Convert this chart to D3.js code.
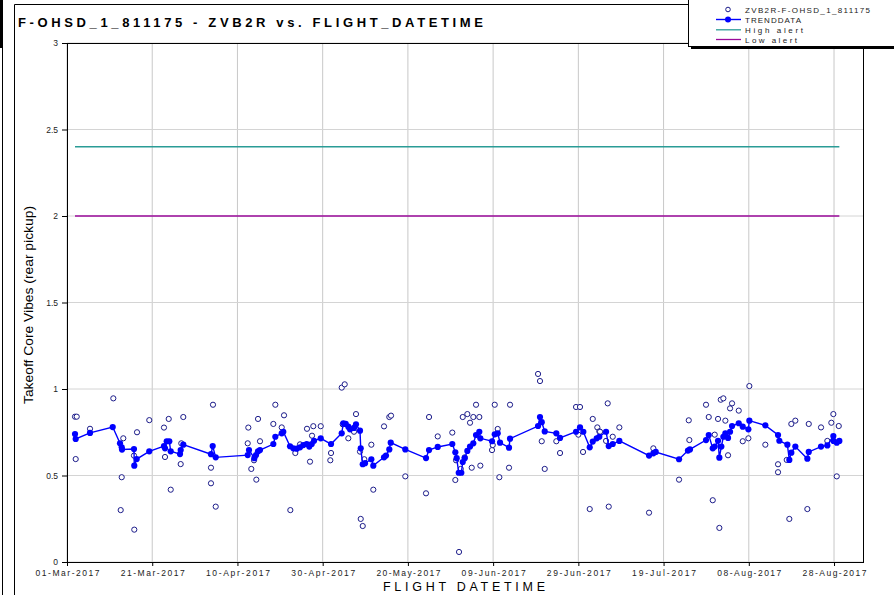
<!DOCTYPE html>
<html>
<head>
<meta charset="utf-8">
<script src="https://cdn.jsdelivr.net/npm/d3@7"></script>
<style>
  body { margin: 0; background: #fff; }
  svg { display: block; font-family: "Liberation Sans", Arial, sans-serif; }
</style>
</head>
<body>
<svg width="894" height="595"></svg>
<script>
// days since 01-Mar-2017 (fractional = time of flight)
var scatterDays = [1.88, 2.28, 2.04, 5.40, 10.87, 13.21, 12.84, 12.60, 16.43, 15.72, 15.79, 19.31, 22.76, 23.87, 23.0, 24.34,
  27.29, 26.68, 26.82, 34.26, 33.79, 33.79, 34.9, 42.55, 42.41, 44.83, 43.25, 44.43, 43.89, 45.29, 48.42, 48.89, 50.93,
  50.39, 52.41, 53.58, 54.68, 56.32, 57.8, 59.54, 57.5, 57.03, 61.96, 61.79, 64.47, 65.17, 64.7, 66.02, 67.35, 67.82,
  68.76, 69.77, 68.93, 69.4, 71.42, 71.88, 74.4, 75.64, 76.04, 79.39, 84.25, 84.96, 87.0, 90.42, 91.29, 91.13, 92.0,
  92.87, 93.95, 94.58, 95.35, 96.76, 95.99, 93.33, 92.4, 94.98, 97.0, 99.74, 99.91, 100.38, 101.08, 101.46, 103.97,
  103.73, 110.54, 111.0, 111.41, 112.11, 114.83, 115.7, 119.46, 120.39, 120.0, 121.1, 123.38, 122.67, 124.45, 124.92,
  126.89, 127.13, 126.5, 125.09, 128.07, 129.62, 136.59, 137.6, 143.63, 145.91, 146.05, 149.96, 150.6, 151.54, 152.0,
  152.78, 153.09, 153.42, 154.03, 154.5, 155.13, 155.6, 156.07, 157.64, 158.58, 159.9, 160.13, 163.88, 166.86, 166.86,
  168.9, 169.51, 169.98, 170.92, 173.74, 174.07, 176.95, 178.43, 179.37, 179.84, 181.11, 180.64];
var scatterValues = [0.84, 0.84, 0.595, 0.77, 0.946, 0.715, 0.49, 0.30, 0.75, 0.615, 0.187, 0.82, 0.777, 0.827, 0.607, 0.418,
  0.838, 0.566, 0.686, 0.909, 0.545, 0.455, 0.32, 0.777, 0.686, 0.827, 0.538, 0.476, 0.588, 0.698, 0.798, 0.909, 0.848,
  0.778, 0.30, 0.63, 0.68, 0.77, 0.785, 0.785, 0.73, 0.58, 0.63, 0.588, 1.008, 1.027, 0.796, 0.715, 0.753, 0.855,
  0.638, 0.594, 0.249, 0.208, 0.678, 0.418, 0.784, 0.838, 0.846, 0.495, 0.397, 0.838, 0.726, 0.748, 0.588, 0.474, 0.058,
  0.838, 0.855, 0.805, 0.838, 0.838, 0.909, 0.605, 0.538, 0.545, 0.557, 0.647, 0.676, 0.909, 0.769, 0.49, 0.909,
  0.545, 1.087, 1.046, 0.698, 0.538, 0.698, 0.63, 0.896, 0.896, 0.736, 0.636, 0.827, 0.306, 0.778, 0.755,
  0.917, 0.32, 0.70, 0.753, 0.724, 0.778, 0.285, 0.657, 0.476, 0.819, 0.705, 0.909, 0.838, 0.357, 0.736,
  0.827, 0.197, 0.938, 0.946, 0.817, 0.617, 0.888, 0.917, 0.875, 0.698, 0.715, 1.017, 0.678, 0.565, 0.519,
  0.59, 0.249, 0.798, 0.817, 0.306, 0.798, 0.778, 0.70, 0.805, 0.855, 0.786, 0.495];

var trendDays = [1.88, 2.04, 5.4, 10.73, 12.44, 12.84, 12.91, 15.72, 15.79, 16.36, 19.31, 22.76, 23.0, 23.4, 24.01, 24.34,
  26.52, 26.68, 27.29, 33.79, 34.19, 34.9, 42.41, 42.71, 43.96, 44.36, 44.83, 45.29, 48.42, 48.89, 50.39, 50.76,
  52.34, 53.11, 53.91, 54.68, 55.46, 56.25, 56.86, 57.43, 57.97, 59.54, 61.96, 64.47, 64.85, 65.41, 66.02, 66.42,
  67.35, 67.82, 68.76, 68.93, 69.4, 69.94, 71.42, 71.88, 74.4, 74.86, 75.64, 75.97, 79.39, 84.25, 84.96, 87.0,
  90.42, 91.13, 91.45, 91.93, 92.54, 92.87, 93.33, 93.95, 94.58, 95.35, 95.99, 96.76, 97.0, 99.74, 100.38, 101.08,
  101.62, 103.73, 103.97, 110.54, 111.0, 111.41, 112.11, 114.83, 115.7, 119.46, 120.39, 121.17, 122.67, 123.38,
  124.31, 124.92, 126.5, 127.13, 128.07, 129.62, 136.59, 137.6, 138.16, 143.63, 145.72, 146.19, 149.96, 150.6,
  151.54, 152.0, 152.78, 153.09, 153.56, 154.03, 154.5, 155.13, 155.6, 156.07, 157.64, 158.58, 159.9, 160.13,
  163.88, 166.86, 167.17, 169.05, 169.51, 169.98, 170.92, 173.74, 174.07, 176.95, 178.43, 179.84, 179.88, 180.64, 181.25];
var trendValues = [0.74, 0.711, 0.746, 0.78, 0.686, 0.663, 0.65, 0.653, 0.557, 0.595, 0.64, 0.67, 0.657, 0.698, 0.698, 0.64,
  0.624, 0.647, 0.678, 0.623, 0.67, 0.605, 0.618, 0.647, 0.60, 0.618, 0.64, 0.647, 0.682, 0.724, 0.744, 0.753,
  0.669, 0.657, 0.655, 0.663, 0.676, 0.682, 0.667, 0.682, 0.701, 0.715, 0.682, 0.744, 0.802, 0.798, 0.782, 0.767,
  0.775, 0.796, 0.759, 0.657, 0.565, 0.571, 0.594, 0.557, 0.605, 0.615, 0.651, 0.69, 0.651, 0.601, 0.647, 0.665,
  0.682, 0.634, 0.60, 0.516, 0.516, 0.578, 0.60, 0.642, 0.667, 0.686, 0.734, 0.753, 0.715, 0.698, 0.738, 0.744,
  0.69, 0.661, 0.713, 0.786, 0.838, 0.808, 0.755, 0.744, 0.717, 0.753, 0.778, 0.753, 0.663, 0.696,
  0.715, 0.724, 0.753, 0.67, 0.682, 0.70, 0.615, 0.628, 0.636, 0.594, 0.644, 0.651, 0.705, 0.734,
  0.657, 0.667, 0.701, 0.603, 0.667, 0.724, 0.744, 0.717, 0.753, 0.786, 0.802, 0.782, 0.767, 0.817,
  0.79, 0.734, 0.701, 0.678, 0.59, 0.632, 0.667, 0.597, 0.636, 0.667, 0.674, 0.728, 0.70, 0.69, 0.70];

var highAlert = 2.4;
var lowAlert = 2.0;

var xTickLabels = ["01-Mar-2017", "21-Mar-2017", "10-Apr-2017", "30-Apr-2017", "20-May-2017",
  "09-Jun-2017", "29-Jun-2017", "19-Jul-2017", "08-Aug-2017", "28-Aug-2017"];
var yTicks = [0, 0.5, 1, 1.5, 2, 2.5, 3];
var legendLabels = ["ZVB2R-F-OHSD_1_811175", "TRENDDATA", "High alert", "Low alert"];

var parseDate = d3.timeParse("%d-%b-%Y");
var baseDate = parseDate("01-Mar-2017");
function dayToDate(d) { return new Date(baseDate.getTime() + d * 86400000); }

var svg = d3.select("svg");
var plotLeft = 67, plotRight = 863, plotTop = 43, plotBottom = 562;

var x = d3.scaleTime()
    .domain([baseDate, dayToDate(186.8)])
    .range([plotLeft, plotRight]);
var y = d3.scaleLinear().domain([0, 3]).range([plotBottom, plotTop]);

// outer frame
svg.append("rect").attr("x", 0).attr("y", 0).attr("width", 3).attr("height", 48).attr("fill", "#000");
svg.append("line").attr("x1", 2.5).attr("x2", 2.5).attr("y1", 48).attr("y2", 595).attr("stroke", "#000");
svg.append("path").attr("d", "M14.5,595V4.5H894").attr("fill", "none").attr("stroke", "#000");

// title
svg.append("text")
    .attr("x", 18).attr("y", 27)
    .attr("font-size", 13).attr("font-weight", "bold")
    .attr("textLength", 465).attr("lengthAdjust", "spacing")
    .text("F-OHSD_1_811175 -  ZVB2R vs. FLIGHT_DATETIME");

// grid
var xTickDates = xTickLabels.map(parseDate);
svg.append("g").selectAll("line").data(xTickDates).enter().append("line")
    .attr("x1", d => x(d)).attr("x2", d => x(d))
    .attr("y1", plotTop).attr("y2", plotBottom)
    .attr("stroke", "#c8c8c8");
svg.append("g").selectAll("line").data(yTicks).enter().append("line")
    .attr("x1", plotLeft).attr("x2", plotRight)
    .attr("y1", d => y(d)).attr("y2", d => y(d))
    .attr("stroke", "#d4d4d4");

// axes
var yAxis = svg.append("g")
    .attr("transform", "translate(" + plotLeft + ",0)")
    .call(d3.axisLeft(y).tickValues(yTicks).tickSize(5).tickFormat(d3.format("")));
var xAxis = svg.append("g")
    .attr("transform", "translate(0," + plotBottom + ")")
    .call(d3.axisBottom(x).tickValues(xTickDates).tickSize(4).tickFormat(d3.timeFormat("%d-%b-%Y")));
[xAxis, yAxis].forEach(function(a) {
    a.select(".domain").remove();
    a.selectAll("line").attr("stroke", "#000");
    a.selectAll("text").attr("font-size", 8.5).attr("fill", "#222")
        .attr("font-family", "Liberation Sans, Arial, sans-serif");
});
xAxis.selectAll("text").attr("y", 6).attr("dy", "0.9em").attr("textLength", 64).attr("lengthAdjust", "spacing");
yAxis.selectAll("text").attr("x", -9);

// plot frame
svg.append("rect")
    .attr("x", plotLeft + 0.5).attr("y", plotTop + 0.5)
    .attr("width", plotRight - plotLeft).attr("height", plotBottom - plotTop)
    .attr("fill", "none").attr("stroke", "#000");

// alert lines over data range
var dataExtent = d3.extent(scatterDays.concat(trendDays));
[[highAlert, "#2a9c96"], [lowAlert, "#9a0a9a"]].forEach(function(a) {
    svg.append("line")
        .attr("x1", x(dayToDate(dataExtent[0]))).attr("x2", x(dayToDate(dataExtent[1])))
        .attr("y1", y(a[0])).attr("y2", y(a[0]))
        .attr("stroke", a[1]).attr("stroke-width", 1.5);
});

// scatter
svg.append("g").selectAll("circle").data(scatterDays).enter().append("circle")
    .attr("cx", (d) => x(dayToDate(d)))
    .attr("cy", (d, i) => y(scatterValues[i]))
    .attr("r", 2.6)
    .attr("fill", "#fff").attr("stroke", "#1c1c8a").attr("stroke-width", 1);

// trend
var trend = trendDays.map((d, i) => [x(dayToDate(d)), y(trendValues[i])]);
svg.append("path")
    .attr("d", d3.line()(trend))
    .attr("fill", "none").attr("stroke", "#0000ff").attr("stroke-width", 1.4);
svg.append("g").selectAll("circle").data(trend).enter().append("circle")
    .attr("cx", d => d[0]).attr("cy", d => d[1]).attr("r", 3.1)
    .attr("fill", "#0000ff");

// axis titles
svg.append("text")
    .attr("x", 464).attr("y", 591)
    .attr("text-anchor", "middle").attr("font-size", 12.5)
    .attr("textLength", 162).attr("lengthAdjust", "spacing")
    .text("FLIGHT DATETIME");
svg.append("text")
    .attr("transform", "translate(33,305) rotate(-90)")
    .attr("text-anchor", "middle").attr("font-size", 13)
    .attr("textLength", 198).attr("lengthAdjust", "spacingAndGlyphs")
    .text("Takeoff Core Vibes (rear pickup)");

// legend
var lg = svg.append("g");
lg.append("rect").attr("x", 691).attr("y", 2).attr("width", 210).attr("height", 47).attr("fill", "#000");
lg.append("rect").attr("x", 688.5).attr("y", -1.5).attr("width", 210).attr("height", 48)
    .attr("fill", "#fff").attr("stroke", "#000");
var rowY = [9.5, 19.5, 29.8, 39.5];
var legendTextLen = [125, 56, 58, 52];
legendLabels.forEach(function(label, i) {
    var yy = rowY[i];
    if (i === 0) {
        lg.append("circle").attr("cx", 728).attr("cy", yy).attr("r", 2.3)
            .attr("fill", "#fff").attr("stroke", "#1c1c8a");
    } else {
        var col = i === 1 ? "#0000ff" : (i === 2 ? "#2a9c96" : "#9a0a9a");
        lg.append("line").attr("x1", 716).attr("x2", 741).attr("y1", yy).attr("y2", yy)
            .attr("stroke", col).attr("stroke-width", i === 1 ? 1.4 : 1.3);
        if (i === 1) lg.append("circle").attr("cx", 728).attr("cy", yy).attr("r", 3).attr("fill", "#0000ff");
    }
    lg.append("text").attr("x", 745).attr("y", yy + 3)
        .attr("font-size", 8).attr("fill", "#222")
        .attr("textLength", legendTextLen[i]).attr("lengthAdjust", "spacing")
        .text(label);
});
</script>
</body>
</html>
